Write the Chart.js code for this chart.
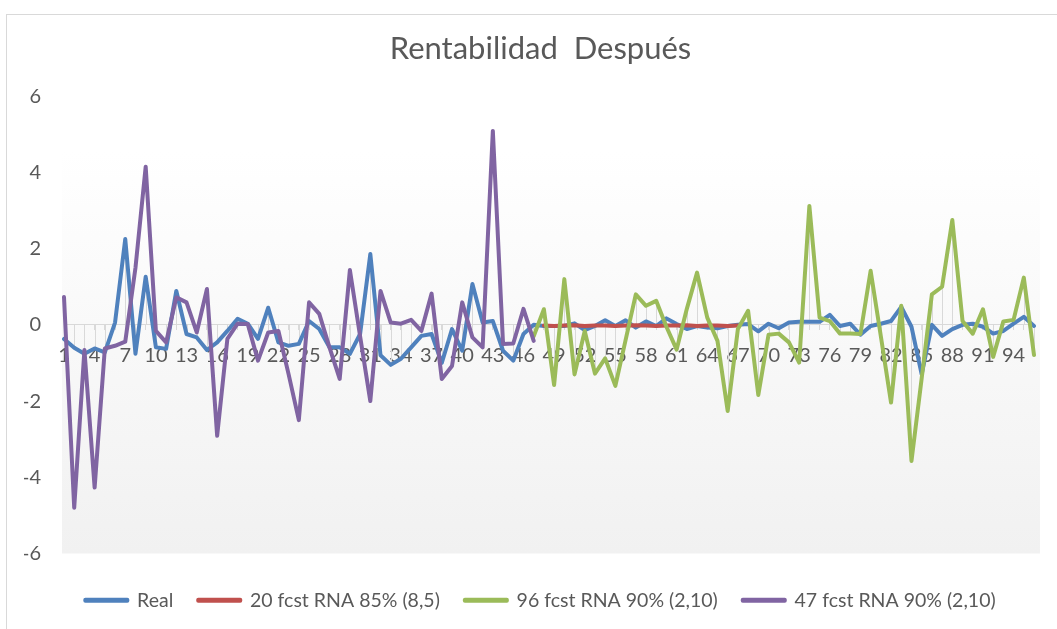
<!DOCTYPE html>
<html>
<head>
<meta charset="utf-8">
<script src="https://cdn.jsdelivr.net/npm/chart.js@4"></script>
<style>
  html, body { margin: 0; padding: 0; background: #ffffff; }
  #wrap { width: 1057px; height: 629px; }
</style>
</head>
<body>
<div id="wrap"><canvas id="chart" width="1057" height="629"></canvas></div>
<script>
// Categorias (periodos)
const categories = [
  1, 2, 3, 4, 5, 6, 7, 8, 9, 10, 11, 12, 13, 14, 15, 16, 17, 18, 19, 20,
  21, 22, 23, 24, 25, 26, 27, 28, 29, 30, 31, 32, 33, 34, 35, 36, 37, 38, 39, 40,
  41, 42, 43, 44, 45, 46, 47, 48, 49, 50, 51, 52, 53, 54, 55, 56, 57, 58, 59, 60,
  61, 62, 63, 64, 65, 66, 67, 68, 69, 70, 71, 72, 73, 74, 75, 76, 77, 78, 79, 80,
  81, 82, 83, 84, 85, 86, 87, 88, 89, 90, 91, 92, 93, 94, 95, 96
];

// Serie real
const real = [
  -0.37, -0.60, -0.76, -0.62, -0.72, 0.06, 2.25, -0.76, 1.26, -0.59,
  -0.63, 0.89, -0.24, -0.33, -0.66, -0.46, -0.16, 0.16, 0.03, -0.37,
  0.45, -0.46, -0.55, -0.50, 0.10, -0.11, -0.59, -0.59, -0.76, -0.24,
  1.86, -0.80, -1.05, -0.89, -0.59, -0.29, -0.24, -1.00, -0.11, -0.68,
  1.07, 0.06, 0.10, -0.68, -0.94, -0.24, 0.00, -0.03, -0.03, -0.03,
  0.04, -0.14, -0.03, 0.12, -0.03, 0.12, -0.07, 0.09, -0.03, 0.17,
  0.02, -0.11, -0.03, -0.07, -0.09, -0.03, 0.00, 0.02, -0.17, 0.03,
  -0.09, 0.06, 0.08, 0.08, 0.08, 0.26, -0.03, 0.03, -0.26, -0.03,
  0.03, 0.10, 0.47, -0.05, -1.30, 0.00, -0.29, -0.11, 0.00, 0.03,
  -0.05, -0.23, -0.16, 0.03, 0.21, -0.03
];

// 20 fcst RNA 85% (8,5) -> periodos 48 a 67
const fcst20 = [
  null, null, null, null, null, null, null, null, null, null,
  null, null, null, null, null, null, null, null, null, null,
  null, null, null, null, null, null, null, null, null, null,
  null, null, null, null, null, null, null, null, null, null,
  null, null, null, null, null, null, null, -0.02, -0.03, -0.02,
  -0.01, -0.03, -0.02, -0.02, -0.03, -0.02, -0.01, -0.02, -0.03, -0.02,
  -0.02, -0.01, -0.03, -0.02, -0.02, -0.03, -0.02, null, null, null,
  null, null, null, null, null, null, null, null, null, null,
  null, null, null, null, null, null, null, null, null, null,
  null, null, null, null, null, null
];

// 96 fcst RNA 90% (2,10) -> periodos 47 a 96
const fcst96 = [
  null, null, null, null, null, null, null, null, null, null,
  null, null, null, null, null, null, null, null, null, null,
  null, null, null, null, null, null, null, null, null, null,
  null, null, null, null, null, null, null, null, null, null,
  null, null, null, null, null, null, -0.30, 0.41, -1.58, 1.20,
  -1.30, -0.16, -1.28, -0.88, -1.60, -0.40, 0.80, 0.50, 0.63, -0.05,
  -0.65, 0.42, 1.37, 0.19, -0.42, -2.26, -0.11, 0.37, -1.84, -0.26,
  -0.23, -0.46, -0.99, 3.12, 0.19, 0.10, -0.23, -0.23, -0.24, 1.42,
  -0.30, -2.04, 0.50, -3.57, -1.40, 0.80, 1.00, 2.75, 0.10, -0.23,
  0.41, -0.84, 0.09, 0.13, 1.24, -0.79
];

// 47 fcst RNA 90% (2,10) -> periodos 1 a 47
const fcst47 = [
  0.73, -4.80, -0.66, -4.27, -0.62, -0.55, -0.44, 1.50, 4.15, -0.16,
  -0.46, 0.72, 0.59, -0.20, 0.94, -2.91, -0.37, 0.03, 0.02, -0.94,
  -0.20, -0.16, -1.30, -2.50, 0.59, 0.29, -0.59, -1.42, 1.44, -0.30,
  -2.00, 0.89, 0.06, 0.03, 0.13, -0.16, 0.82, -1.42, -1.08, 0.59,
  -0.33, -0.59, 5.09, -0.50, -0.49, 0.42, -0.42, null, null, null,
  null, null, null, null, null, null, null, null, null, null,
  null, null, null, null, null, null, null, null, null, null,
  null, null, null, null, null, null, null, null, null, null,
  null, null, null, null, null, null, null, null, null, null,
  null, null, null, null, null, null
];

const yTicks = [-6, -4, -2, 0, 2, 4, 6];

const textColor = '#595959';
const fontFamily = 'Lato, "Open Sans", sans-serif';

// Fondo degradado, borde y lineas de caida
const decor = {
  id: 'decor',
  beforeDraw(chart) {
    const { ctx, chartArea: a } = chart;
    ctx.save();
    ctx.strokeStyle = '#d9d9d9';
    ctx.lineWidth = 1;
    ctx.strokeRect(6.5, 14.5, 1100, 700);
    const g = ctx.createLinearGradient(0, a.top, 0, a.bottom);
    g.addColorStop(0, '#ffffff');
    g.addColorStop(0.12, '#ffffff');
    g.addColorStop(1, '#f1f1f1');
    ctx.fillStyle = g;
    ctx.fillRect(a.left - 2, a.top, a.right - a.left + 8, a.bottom - a.top);
    ctx.restore();
  },
  beforeDatasetsDraw(chart) {
    const { ctx } = chart;
    const xs = chart.scales.x, ys = chart.scales.y;
    const y0 = ys.getPixelForValue(0);
    ctx.save();
    ctx.strokeStyle = '#d9d9d9';
    ctx.lineWidth = 1;
    [0, 1, 2].forEach(di => {
      chart.data.datasets[di].data.forEach((v, i) => {
        if (v === null) return;
        const px = Math.round(xs.getPixelForValue(i)) + 0.5;
        ctx.beginPath();
        ctx.moveTo(px, y0);
        ctx.lineTo(px, ys.getPixelForValue(v));
        ctx.stroke();
      });
    });
    ctx.restore();
  }
};

function serie(label, data, color, order) {
  return {
    label: label,
    data: data,
    borderColor: color,
    backgroundColor: color,
    borderWidth: 4,
    pointRadius: 0,
    pointHoverRadius: 0,
    tension: 0,
    borderCapStyle: 'round',
    borderJoinStyle: 'round',
    spanGaps: false,
    order: order
  };
}

new Chart(document.getElementById('chart'), {
  type: 'line',
  data: {
    labels: categories,
    datasets: [
      serie('Real', real, '#4f81bd', 3),
      serie('20 fcst RNA 85% (8,5)', fcst20, '#c0504d', 2),
      serie('96 fcst RNA 90% (2,10)', fcst96, '#9bbb59', 1),
      serie('47 fcst RNA 90% (2,10)', fcst47, '#8064a2', 0)
    ]
  },
  options: {
    responsive: false,
    animation: false,
    layout: { padding: { left: 24, right: 0, top: 0, bottom: 9 } },
    plugins: {
      title: {
        display: true,
        text: 'Rentabilidad  Después',
        color: textColor,
        font: { family: fontFamily, size: 31, weight: 'normal', lineHeight: 1.2 },
        padding: { top: 30, bottom: 29 }
      },
      legend: {
        position: 'bottom',
        title: { display: true, text: '', font: { size: 10, lineHeight: 1.2 }, padding: 0 },
        labels: {
          color: textColor,
          font: { family: fontFamily, size: 19.5 },
          boxWidth: 42,
          boxHeight: 1,
          padding: 25,
          sort: (a, b) => a.datasetIndex - b.datasetIndex
        }
      },
      tooltip: { enabled: false }
    },
    scales: {
      x: {
        type: 'category',
        position: { y: 0 },
        offset: false,
        grid: {
          drawOnChartArea: false,
          drawTicks: true,
          tickLength: 5,
          tickColor: '#d9d9d9'
        },
        border: { display: true, color: '#d9d9d9', width: 1 },
        ticks: {
          autoSkip: false,
          maxRotation: 0,
          minRotation: 0,
          padding: 14,
          color: textColor,
          font: { family: fontFamily, size: 20 },
          callback: function (value, index) {
            return index % 3 === 0 ? String(this.getLabelForValue(value)) : '';
          }
        }
      },
      y: {
        position: 'left',
        min: yTicks[0],
        max: yTicks[yTicks.length - 1],
        afterBuildTicks: s => { s.ticks = yTicks.map(v => ({ value: v })); },
        afterFit: s => { s.width = 40; },
        grid: { display: false },
        border: { display: false },
        ticks: {
          padding: 15,
          color: textColor,
          font: { family: fontFamily, size: 20 }
        }
      },
      // margen derecho del area de trazado
      hueco: {
        type: 'linear',
        position: 'right',
        grid: { display: false },
        border: { display: false },
        ticks: { display: false },
        afterFit: s => { s.width = 23; }
      }
    }
  },
  plugins: [decor]
});
</script>
</body>
</html>
